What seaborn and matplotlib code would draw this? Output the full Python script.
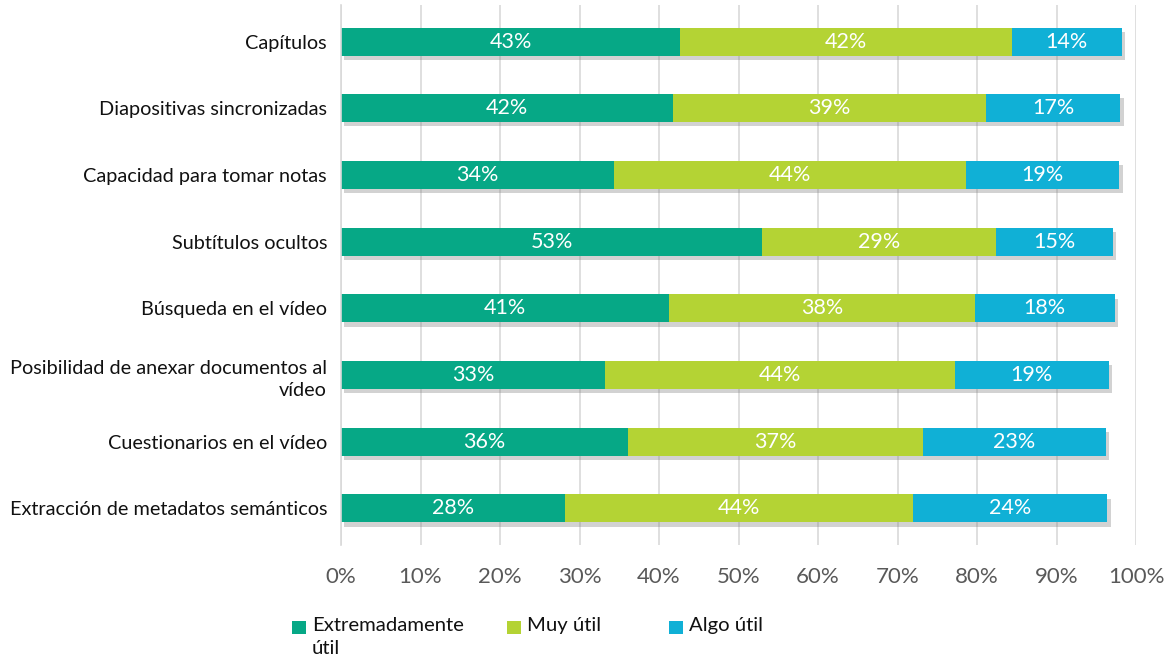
import matplotlib
matplotlib.use("Agg")
import matplotlib.pyplot as plt
import matplotlib.patheffects as pe
from matplotlib.patches import Rectangle
import seaborn as sns
import pandas as pd
import numpy as np

categories = [
    "Capítulos",
    "Diapositivas sincronizadas",
    "Capacidad para tomar notas",
    "Subtítulos ocultos",
    "Búsqueda en el vídeo",
    "Posibilidad de anexar documentos al\nvídeo",
    "Cuestionarios en el vídeo",
    "Extracción de metadatos semánticos",
]
extremadamente = [42.7, 41.8, 34.3, 53.0, 41.3, 33.2, 36.1, 28.2]
muy_util = [41.7, 39.3, 44.3, 29.4, 38.4, 44.0, 37.1, 43.8]
algo_util = [13.8, 16.9, 19.3, 14.7, 17.6, 19.4, 23.0, 24.4]
series_names = ["Extremadamente\nútil", "Muy útil", "Algo útil"]
colors = ["#06a886", "#b4d334", "#10b0d6"]
xticks = [0, 10, 20, 30, 40, 50, 60, 70, 80, 90, 100]

sns.set_theme(style="white")
plt.rcParams["font.family"] = ["Lato", "DejaVu Sans"]

W, H = 1172, 662
df = pd.DataFrame({"cat": categories, "e": extremadamente, "m": muy_util, "a": algo_util})
df["c1"] = df["e"]
df["c2"] = df["e"] + df["m"]
df["c3"] = df["c2"] + df["a"]

fig = plt.figure(figsize=(W / 100, H / 100), dpi=100)
ax = fig.add_axes([341 / W, 1 - 545 / H, (1136 - 341) / W, 540 / H])

for col, color in zip(["c3", "c2", "c1"], colors[::-1]):
    sns.barplot(data=df, x=col, y="cat", orient="h", color=color, width=0.42,
                saturation=1, ax=ax, order=categories)

shadow = [pe.SimplePatchShadow(offset=(2.5, -3), shadow_rgbFace="#808080", alpha=0.35), pe.Normal()]
for k, p in enumerate(ax.patches):
    p.set_edgecolor("none")
    if k < len(categories):
        p.set_path_effects(shadow)

for i, row in df.iterrows():
    starts = [0, row["c1"], row["c2"]]
    vals = [row["e"], row["m"], row["a"]]
    for s, v in zip(starts, vals):
        ax.text(s + v / 2, i, f"{v:.0f}%", ha="center", va="center",
                color="white", fontsize=15.5)

ax.set_xlim(0, 100)
ax.set_ylim(7.55, -0.55)
ax.set_xticks(xticks)
ax.set_xticklabels([f"{t}%" for t in xticks], color="#595959", fontsize=16)
ax.tick_params(axis="x", pad=16, length=0)
ax.tick_params(axis="y", length=0, pad=10)
for lbl in ax.get_yticklabels():
    lbl.set_fontsize(14.3)
    lbl.set_color("#111111")
    lbl.set_multialignment("right")
    lbl.set_linespacing(1.4)
ax.set_xlabel("")
ax.set_ylabel("")
ax.grid(axis="x", color="#d9d9d9", linewidth=1.2)
ax.set_axisbelow(True)
for s in ["top", "right", "bottom"]:
    ax.spines[s].set_visible(False)
ax.spines["left"].set_color("#d9d9d9")
ax.spines["left"].set_linewidth(1.2)

# legend (drawn in figure pixel coordinates)
handle_x = [292, 507, 669]
text_x = [312, 527, 689]
for hx, tx, name, c in zip(handle_x, text_x, series_names, colors):
    fig.patches.append(Rectangle((hx / W, 1 - 634 / H), 14 / W, 13 / H,
                                 transform=fig.transFigure, facecolor=c, edgecolor="none"))
    fig.text(tx / W, 1 - 617 / H, name, ha="left", va="top", fontsize=14.6,
             color="#111111", linespacing=1.45)

fig.savefig("out.png", dpi=100)
